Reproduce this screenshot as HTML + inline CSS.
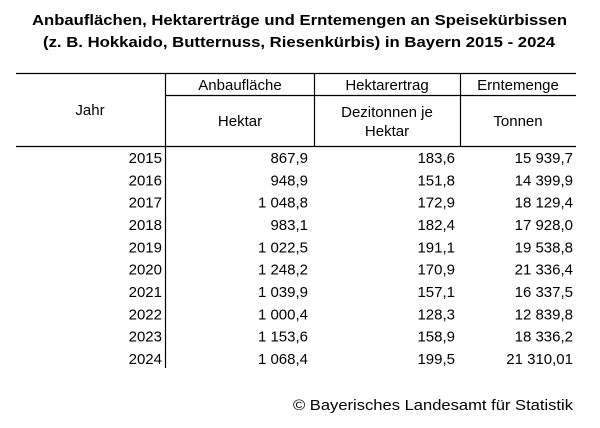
<!DOCTYPE html>
<html><head><meta charset="utf-8"><style>
html,body{margin:0;padding:0;background:#fff;}
svg{display:block;}
text{font-family:"Liberation Sans",Arial,sans-serif;fill:#000;}
</style></head><body>
<svg width="600" height="428" viewBox="0 0 600 428" xmlns="http://www.w3.org/2000/svg">
<g font-weight="bold" font-size="15" text-anchor="middle">
<text x="299.5" y="25" textLength="535" lengthAdjust="spacingAndGlyphs">Anbauflächen, Hektarerträge und Erntemengen an Speisekürbissen</text>
<text x="299" y="47" textLength="512" lengthAdjust="spacingAndGlyphs">(z. B. Hokkaido, Butternuss, Riesenkürbis) in Bayern 2015 - 2024</text>
</g>
<g stroke="#000" stroke-width="1.2">
<line x1="16" y1="73.5" x2="576" y2="73.5"/>
<line x1="165" y1="95.5" x2="576" y2="95.5"/>
<line x1="16" y1="146.5" x2="576" y2="146.5"/>
<line x1="165.5" y1="73" x2="165.5" y2="368"/>
<line x1="314.5" y1="73" x2="314.5" y2="146"/>
<line x1="460.5" y1="73" x2="460.5" y2="146"/>
</g>
<g font-size="15" text-anchor="middle">
<text x="90" y="115">Jahr</text>
<text x="240" y="90">Anbaufläche</text>
<text x="387" y="90">Hektarertrag</text>
<text x="518" y="90">Erntemenge</text>
<text x="240" y="126">Hektar</text>
<text x="387" y="117">Dezitonnen je</text>
<text x="387" y="136">Hektar</text>
<text x="518" y="126">Tonnen</text>
</g>
<g font-size="15" text-anchor="end">
<text x="162" y="163">2015</text><text x="308" y="163">867,9</text><text x="455" y="163">183,6</text><text x="573" y="163">15 939,7</text>
<text x="162" y="185.3">2016</text><text x="308" y="185.3">948,9</text><text x="455" y="185.3">151,8</text><text x="573" y="185.3">14 399,9</text>
<text x="162" y="207.7">2017</text><text x="308" y="207.7">1 048,8</text><text x="455" y="207.7">172,9</text><text x="573" y="207.7">18 129,4</text>
<text x="162" y="230">2018</text><text x="308" y="230">983,1</text><text x="455" y="230">182,4</text><text x="573" y="230">17 928,0</text>
<text x="162" y="252.3">2019</text><text x="308" y="252.3">1 022,5</text><text x="455" y="252.3">191,1</text><text x="573" y="252.3">19 538,8</text>
<text x="162" y="274.7">2020</text><text x="308" y="274.7">1 248,2</text><text x="455" y="274.7">170,9</text><text x="573" y="274.7">21 336,4</text>
<text x="162" y="297">2021</text><text x="308" y="297">1 039,9</text><text x="455" y="297">157,1</text><text x="573" y="297">16 337,5</text>
<text x="162" y="319.3">2022</text><text x="308" y="319.3">1 000,4</text><text x="455" y="319.3">128,3</text><text x="573" y="319.3">12 839,8</text>
<text x="162" y="341.7">2023</text><text x="308" y="341.7">1 153,6</text><text x="455" y="341.7">158,9</text><text x="573" y="341.7">18 336,2</text>
<text x="162" y="364">2024</text><text x="308" y="364">1 068,4</text><text x="455" y="364">199,5</text><text x="573" y="364">21 310,01</text>
<text x="573" y="410" textLength="280" lengthAdjust="spacingAndGlyphs">© Bayerisches Landesamt für Statistik</text>
</g>
</svg>
</body></html>
